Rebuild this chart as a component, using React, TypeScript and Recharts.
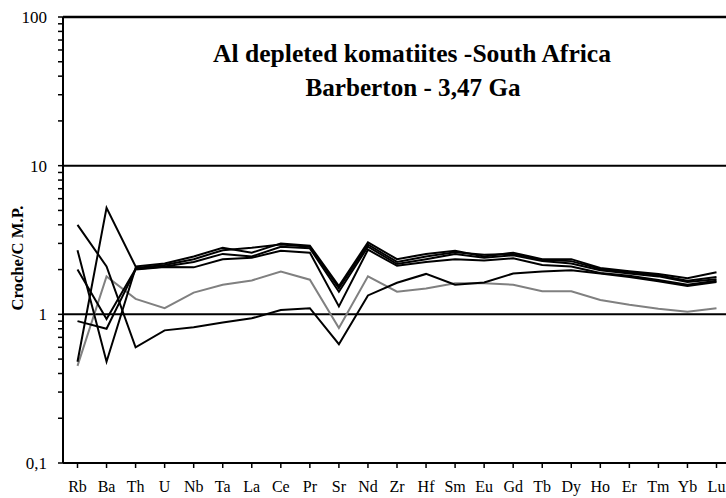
import React from "react";
import { LineChart, Line, XAxis, YAxis, ReferenceLine } from "recharts";

const elements = ["Rb","Ba","Th","U","Nb","Ta","La","Ce","Pr","Sr","Nd","Zr","Hf","Sm","Eu","Gd","Tb","Dy","Ho","Er","Tm","Yb","Lu"];

const s1 = [4.0, 2.1, 0.6, 0.78, 0.82, 0.88, 0.94, 1.07, 1.1, 0.63, 1.34, 1.63, 1.87, 1.58, 1.64, 1.88, 1.94, 1.98, 1.88, 1.78, 1.67, 1.55, 1.65];
const s2 = [0.48, 5.2, 2.1, 2.2, 2.45, 2.8, 2.6, 3.0, 2.9, 1.55, 3.05, 2.35, 2.55, 2.68, 2.45, 2.6, 2.35, 2.35, 2.05, 1.95, 1.87, 1.75, 1.92];
const s3 = [2.7, 0.48, 2.05, 2.15, 2.35, 2.7, 2.8, 2.95, 2.85, 1.5, 2.95, 2.25, 2.45, 2.62, 2.52, 2.55, 2.32, 2.28, 2.02, 1.92, 1.83, 1.68, 1.78];
const s4 = [2.0, 0.93, 2.02, 2.1, 2.25, 2.55, 2.45, 2.85, 2.78, 1.42, 2.85, 2.18, 2.35, 2.55, 2.4, 2.5, 2.28, 2.2, 1.98, 1.88, 1.8, 1.65, 1.72];
const s5 = [0.9, 0.8, 2.0, 2.08, 2.07, 2.35, 2.4, 2.68, 2.6, 1.13, 2.72, 2.12, 2.25, 2.35, 2.3, 2.38, 2.15, 2.1, 1.9, 1.82, 1.7, 1.58, 1.68];
const sGray = [0.45, 1.8, 1.27, 1.1, 1.4, 1.58, 1.69, 1.94, 1.71, 0.81, 1.8, 1.42, 1.49, 1.62, 1.62, 1.58, 1.43, 1.43, 1.25, 1.16, 1.09, 1.04, 1.1];

const yTicks = [0.1,0.2,0.3,0.4,0.5,0.6,0.7,0.8,0.9,1,2,3,4,5,6,7,8,9,10,20,30,40,50,60,70,80,90,100];
const majorLabels: Record<string, string> = { "0.1": "0,1", "1": "1", "10": "10", "100": "100" };

const data = elements.map((el, i) => ({
  el,
  a: s1[i],
  b: s2[i],
  c: s3[i],
  d: s4[i],
  e: s5[i],
  g: sGray[i],
}));

const FONT = "'Liberation Serif', 'Times New Roman', serif";

const YTick = (props: any) => {
  const { x, y, payload } = props;
  const lab = majorLabels[String(payload.value)];
  if (!lab) return <g />;
  return (
    <text x={x - 11} y={y} dy="0.35em" textAnchor="end" fontFamily={FONT} fontSize={17} fill="#000">
      {lab}
    </text>
  );
};

const XTick = (props: any) => {
  const { x, y, payload } = props;
  return (
    <text x={x} y={y} dy={24} textAnchor="middle" fontFamily={FONT} fontSize={16} fill="#000">
      {payload.value}
    </text>
  );
};

export default function App() {
  return (
    <div style={{ position: "relative", width: 726, height: 498, overflow: "hidden", background: "#fff" }}>
      <style>{`html,body{margin:0;padding:0;overflow:hidden;}`}</style>
      <div style={{ position: "absolute", left: 8, top: 8 }}>
        <LineChart width={740} height={490} data={data} margin={{ top: 9, right: 17, left: 0, bottom: 5 }}>
          <XAxis
            dataKey="el"
            interval={0}
            padding={{ left: 14.5, right: 14.5 }}
            axisLine={{ stroke: "#000", strokeWidth: 2 }}
            tickLine={{ stroke: "#000", strokeWidth: 1.5 }}
            tickSize={5}
            tickMargin={0}
            height={30}
            tick={<XTick />}
          />
          <YAxis
            scale="log"
            domain={[0.1, 100]}
            allowDataOverflow
            ticks={yTicks}
            interval={0}
            width={55}
            axisLine={{ stroke: "#000", strokeWidth: 2 }}
            tickLine={{ stroke: "#000", strokeWidth: 1.5 }}
            tickSize={5}
            tickMargin={0}
            tick={<YTick />}
          />
          <ReferenceLine y={1} stroke="#000" strokeWidth={2} />
          <ReferenceLine y={10} stroke="#000" strokeWidth={2} />
          <ReferenceLine y={100} stroke="#000" strokeWidth={2.5} />
          <Line dataKey="g" stroke="#808080" strokeWidth={2} dot={false} isAnimationActive={false} />
          <Line dataKey="a" stroke="#000" strokeWidth={2} dot={false} isAnimationActive={false} />
          <Line dataKey="b" stroke="#000" strokeWidth={2} dot={false} isAnimationActive={false} />
          <Line dataKey="c" stroke="#000" strokeWidth={2} dot={false} isAnimationActive={false} />
          <Line dataKey="d" stroke="#000" strokeWidth={2} dot={false} isAnimationActive={false} />
          <Line dataKey="e" stroke="#000" strokeWidth={2} dot={false} isAnimationActive={false} />
        </LineChart>
      </div>
      <svg width={726} height={498} style={{ position: "absolute", left: 0, top: 0, pointerEvents: "none" }}>
        <text x={412} y={62} textAnchor="middle" fontFamily={FONT} fontWeight="bold" fontSize={25} fill="#000" textLength={398} lengthAdjust="spacingAndGlyphs">
          Al depleted komatiites -South Africa
        </text>
        <text x={413} y={96} textAnchor="middle" fontFamily={FONT} fontWeight="bold" fontSize={25} fill="#000" textLength={215} lengthAdjust="spacingAndGlyphs">
          Barberton - 3,47 Ga
        </text>
        <text
          x={0}
          y={0}
          transform="translate(23 258) rotate(-90)"
          textAnchor="middle"
          fontFamily={FONT}
          fontWeight="bold"
          fontSize={16}
          fill="#000"
          textLength={105}
          lengthAdjust="spacingAndGlyphs"
        >
          Croche/C M.P.
        </text>
      </svg>
    </div>
  );
}
